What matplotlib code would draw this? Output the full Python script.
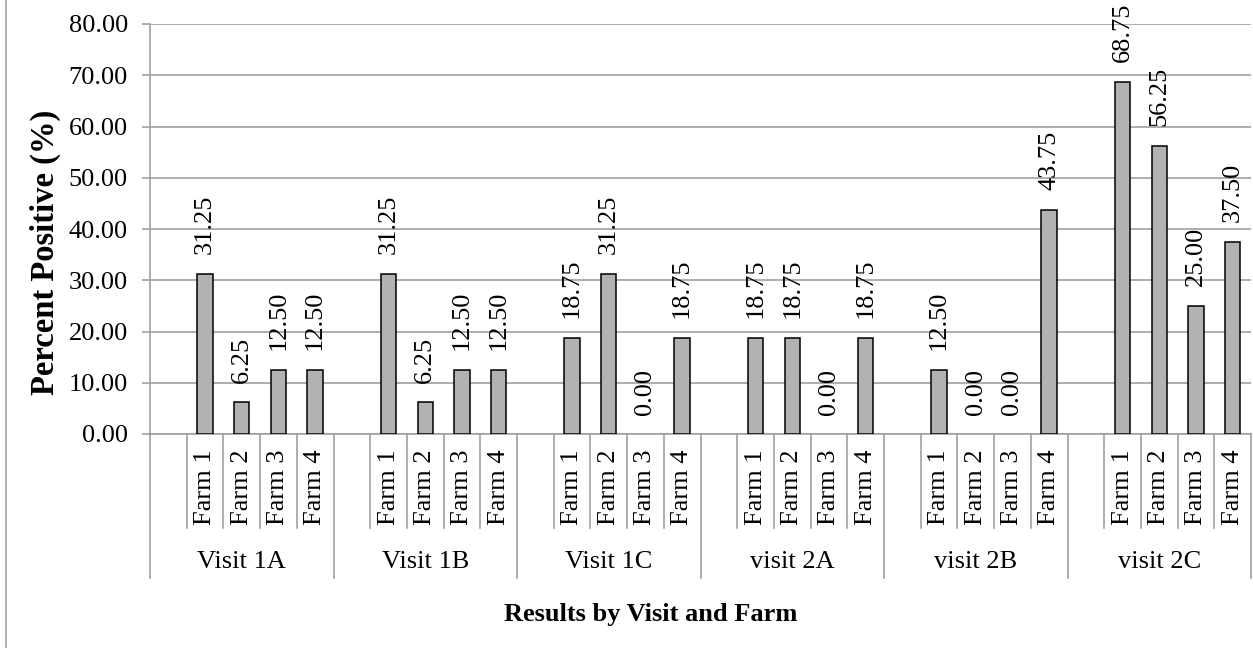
import matplotlib
matplotlib.use("Agg")
import matplotlib.pyplot as plt
import matplotlib.transforms as mtransforms
from matplotlib.lines import Line2D

plt.rcParams['font.family'] = ['Liberation Serif', 'DejaVu Serif']

visits = ["Visit 1A", "Visit 1B", "Visit 1C", "visit 2A", "visit 2B", "visit 2C"]
farms = ["Farm 1", "Farm 2", "Farm 3", "Farm 4"]
percent_positive = [
    [31.25, 6.25, 12.50, 12.50],
    [31.25, 6.25, 12.50, 12.50],
    [18.75, 31.25, 0.00, 18.75],
    [18.75, 18.75, 0.00, 18.75],
    [12.50, 0.00, 0.00, 43.75],
    [68.75, 56.25, 25.00, 37.50],
]
y_ticks = [0, 10, 20, 30, 40, 50, 60, 70, 80]

W, H = 1253, 648
fig = plt.figure(figsize=(W / 100, H / 100), dpi=100)
ax_left, ax_right, ax_top, ax_bottom = 150, 1251, 24, 434
ax = fig.add_axes([ax_left / W, 1 - ax_bottom / H,
                   (ax_right - ax_left) / W, (ax_bottom - ax_top) / H])

grid_col = "#a0a0a0"
fs = 19
slots_per_group = len(farms) + 1
n_slots = slots_per_group * len(visits)

xs, ys = [], []
for g, vals in enumerate(percent_positive):
    for f, v in enumerate(vals):
        xs.append(g * slots_per_group + 1 + f + 0.5)
        ys.append(v)

# zero-height bars get no outline so they stay invisible
edge_widths = [1.1 if v > 0 else 0 for v in ys]
ax.bar(xs, ys, width=0.42, color="#b2b2b2", edgecolor="black",
       linewidth=edge_widths, zorder=3)
for x, v in zip(xs, ys):
    ax.annotate(f"{v:.2f}", xy=(x, v), xytext=(0, 14),
                textcoords="offset points", rotation=90,
                ha="center", va="bottom", fontsize=fs, zorder=4)

ax.set_xlim(0, n_slots)
ax.set_ylim(0, 80)
ax.set_yticks(y_ticks)
ax.set_yticklabels([f"{t:.2f}" for t in y_ticks], fontsize=fs)
ax.set_xticks([])
ax.yaxis.grid(True, color=grid_col, linewidth=1.2, zorder=0)
ax.set_axisbelow(True)
ax.tick_params(axis="y", length=6, width=1.2, color=grid_col, pad=10)
for s in ("top", "right"):
    ax.spines[s].set_visible(False)
for s in ("left", "bottom"):
    ax.spines[s].set_color(grid_col)
    ax.spines[s].set_linewidth(1.2)

# category axis: farm and visit separators with labels
trans = mtransforms.blended_transform_factory(ax.transData, ax.transAxes)
farm_sep_y = (ax_bottom - 528) / (ax_bottom - ax_top)
group_sep_y = (ax_bottom - 578) / (ax_bottom - ax_top)
for g in range(len(visits)):
    base = g * slots_per_group
    ax.plot([base, base], [0, group_sep_y], transform=trans, clip_on=False,
            color=grid_col, linewidth=1.2)
    for k in range(1, slots_per_group):
        ax.plot([base + k, base + k], [0, farm_sep_y], transform=trans,
                clip_on=False, color=grid_col, linewidth=1.2)
    for f, name in enumerate(farms):
        ax.annotate(name, xy=(base + 1 + f + 0.5, 0), xycoords=trans,
                    xytext=(0, -11), textcoords="offset points",
                    rotation=90, ha="center", va="top", fontsize=fs)
    ax.annotate(visits[g], xy=(base + slots_per_group / 2, 0), xycoords=trans,
                xytext=(0, -92), textcoords="offset points",
                ha="center", va="center", fontsize=fs)
ax.plot([n_slots, n_slots], [0, group_sep_y], transform=trans, clip_on=False,
        color=grid_col, linewidth=1.2)

fig.text(651 / W, 1 - 614 / H, "Results by Visit and Farm", ha="center",
         va="center", fontsize=fs, fontweight="bold")
fig.text(45 / W, 1 - 252 / H, "Percent Positive (%)", ha="center",
         va="center", rotation=90, fontsize=23.5, fontweight="bold")

fig.add_artist(Line2D([6 / W, 6 / W], [0, 1], transform=fig.transFigure,
                      color=grid_col, linewidth=1.2))

fig.savefig("out.png", dpi=100, facecolor="white")
